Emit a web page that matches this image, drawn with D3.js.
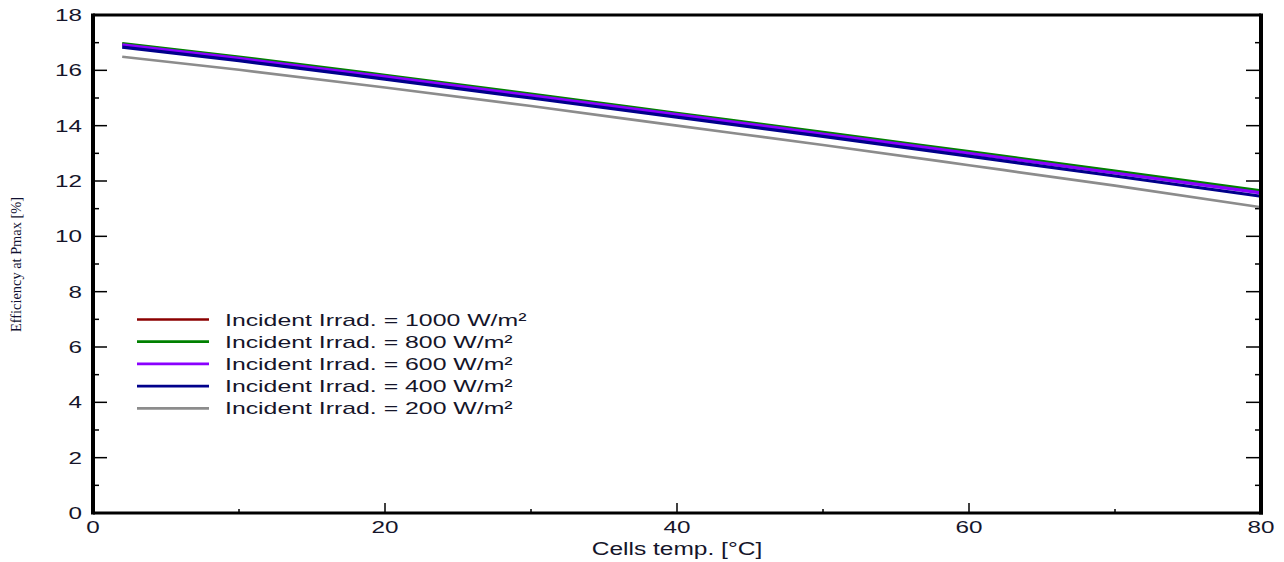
<!DOCTYPE html>
<html><head><meta charset="utf-8">
<script src="https://cdn.jsdelivr.net/npm/d3@7"></script>
<style>body{margin:0;background:#fff}svg{display:block}</style>
</head><body>
<svg id="c" width="1284" height="562"></svg>
<script>
const temps = [2, 10, 20, 30, 40, 50, 60, 70, 80];
const irr1000 = [16.94, 16.45, 15.79, 15.11, 14.42, 13.73, 13.03, 12.33, 11.61];
const irr800  = [16.97, 16.48, 15.82, 15.14, 14.45, 13.76, 13.06, 12.36, 11.64];
const irr600  = [16.92, 16.43, 15.77, 15.09, 14.40, 13.70, 13.00, 12.29, 11.57];
const irr400  = [16.84, 16.35, 15.68, 15.00, 14.31, 13.61, 12.90, 12.18, 11.45];
const irr200  = [16.49, 16.02, 15.38, 14.71, 14.00, 13.30, 12.57, 11.83, 11.05];
const seriesNames = ["Incident Irrad. = 1000 W/m²","Incident Irrad. = 800 W/m²","Incident Irrad. = 600 W/m²","Incident Irrad. = 400 W/m²","Incident Irrad. = 200 W/m²"];
const seriesColors = ["#8b0000","#008000","#8a00ff","#00008b","#8c8c8c"];
const seriesValues = [irr1000, irr800, irr600, irr400, irr200];
const xTicks = [0, 20, 40, 60, 80];
const xMinor = [10, 30, 50, 70];
const yTicks = [0, 2, 4, 6, 8, 10, 12, 14, 16, 18];
const yMinor = [1, 3, 5, 7, 9, 11, 13, 15, 17];

const svg = d3.select("#c");
const L = 93, R = 1261, T = 15, B = 513;
const x = d3.scaleLinear().domain([0, 80]).range([L, R]);
const y = d3.scaleLinear().domain([0, 18]).range([B, T]);
const font = "'Liberation Sans', Arial, sans-serif";
const txtCol = "#15152a";

function stretch(sel, k) {
  sel.each(function() {
    const w = this.getComputedTextLength();
    d3.select(this).attr("textLength", w * k).attr("lengthAdjust", "spacingAndGlyphs");
  });
}

// ticks
const g = svg.append("g").attr("stroke", "#000");
g.selectAll(".ly").data(yTicks.slice(1, -1)).join("line").attr("x1", L).attr("x2", L + 14).attr("y1", d => y(d)).attr("y2", d => y(d)).attr("stroke-width", 1.5);
g.selectAll(".lym").data(yMinor).join("line").attr("x1", L).attr("x2", L + 6).attr("y1", d => y(d)).attr("y2", d => y(d)).attr("stroke-width", 1.5);
g.selectAll(".ry").data(yTicks.slice(1, -1)).join("line").attr("x1", R).attr("x2", R - 15).attr("y1", d => y(d)).attr("y2", d => y(d)).attr("stroke-width", 1.5);
g.selectAll(".rym").data(yMinor).join("line").attr("x1", R).attr("x2", R - 6).attr("y1", d => y(d)).attr("y2", d => y(d)).attr("stroke-width", 1.5);
g.selectAll(".bx").data(xTicks.slice(1, -1)).join("line").attr("x1", d => x(d)).attr("x2", d => x(d)).attr("y1", B).attr("y2", B - 10).attr("stroke-width", 1.5);
g.selectAll(".bxm").data(xMinor).join("line").attr("x1", d => x(d)).attr("x2", d => x(d)).attr("y1", B).attr("y2", B - 4).attr("stroke-width", 1.5);

// series
const line = d3.line().x((d, i) => x(temps[i])).y(d => y(d)).curve(d3.curveMonotoneX);
seriesValues.forEach((vals, k) => {
  svg.append("path").attr("d", line(vals)).attr("fill", "none")
    .attr("stroke", seriesColors[k]).attr("stroke-width", k === 4 ? 2.7 : 3.2);
});

// frame
svg.append("line").attr("x1", L).attr("x2", R).attr("y1", T).attr("y2", T).attr("stroke", "#000").attr("stroke-width", 3);
svg.append("line").attr("x1", L).attr("x2", R + 2).attr("y1", B).attr("y2", B).attr("stroke", "#000").attr("stroke-width", 3);
svg.append("line").attr("x1", L).attr("x2", L).attr("y1", T - 1.5).attr("y2", B + 1.5).attr("stroke", "#000").attr("stroke-width", 4);
svg.append("line").attr("x1", R).attr("x2", R).attr("y1", T - 1.5).attr("y2", B + 1.5).attr("stroke", "#000").attr("stroke-width", 4);

// tick labels
const yl = svg.selectAll(".yl").data(yTicks).join("text").attr("x", 82).attr("y", d => y(d) + 6)
  .attr("text-anchor", "end").attr("font-family", font).attr("font-size", 16.5).attr("fill", txtCol).text(d => d);
stretch(yl, 1.47);
const xl = svg.selectAll(".xl").data(xTicks).join("text").attr("x", d => x(d)).attr("y", 533)
  .attr("text-anchor", "middle").attr("font-family", font).attr("font-size", 16.5).attr("fill", txtCol).text(d => d);
stretch(xl, 1.47);

// axis titles
const xt = svg.append("text").attr("x", 677).attr("y", 555).attr("text-anchor", "middle")
  .attr("font-family", font).attr("font-size", 17.5).attr("fill", txtCol).text("Cells temp. [°C]");
stretch(xt, 1.4);
svg.append("text").attr("transform", "translate(21,264.5) rotate(-90)").attr("text-anchor", "middle")
  .attr("font-family", "'Liberation Serif', 'Times New Roman', serif").attr("font-size", 15.5)
  .attr("fill", "#101030").attr("textLength", 135).attr("lengthAdjust", "spacingAndGlyphs").text("Efficiency at Pmax [%]");

// legend
const lg = svg.append("g");
seriesNames.forEach((n, k) => {
  const yy = 319.5 + k * 22.2;
  lg.append("line").attr("x1", 137).attr("x2", 209).attr("y1", yy).attr("y2", yy)
    .attr("stroke", seriesColors[k]).attr("stroke-width", 2.7);
  const t = lg.append("text").attr("x", 225).attr("y", yy + 6).attr("font-family", font)
    .attr("font-size", 17).attr("fill", txtCol).text(n);
  stretch(t, 1.46);
});
</script>
</body></html>
